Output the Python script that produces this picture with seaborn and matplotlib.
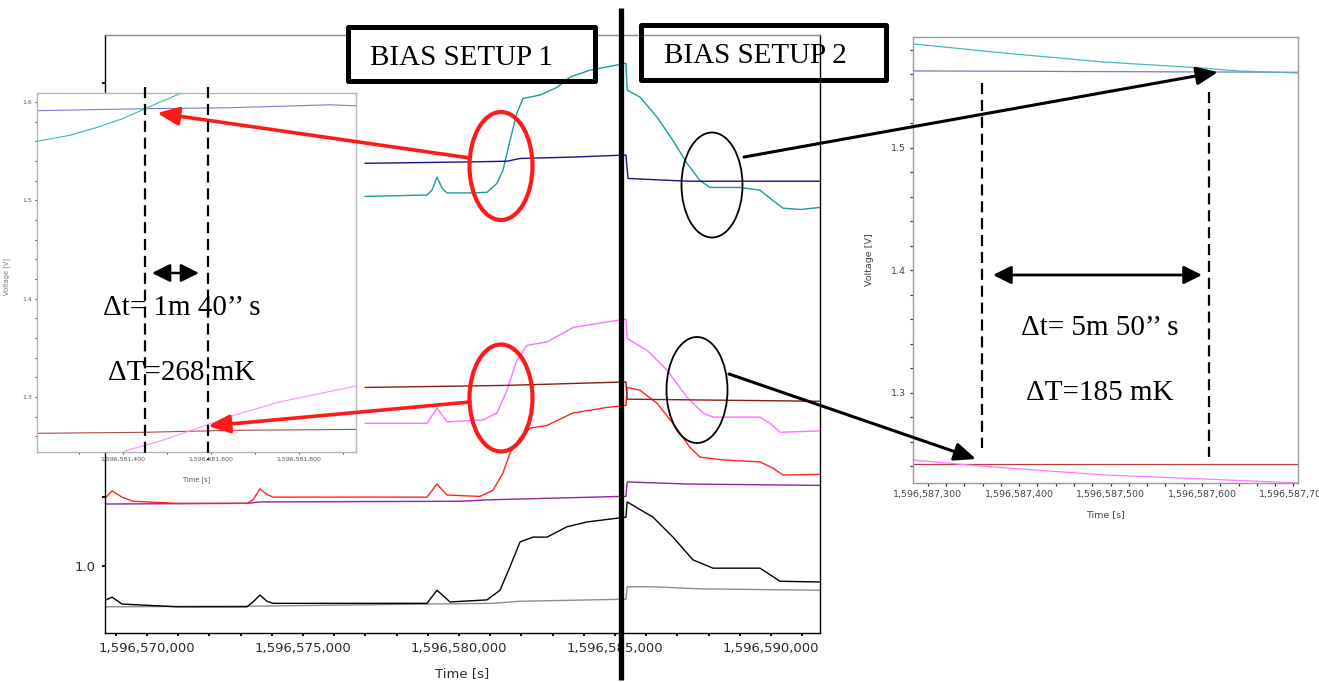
import numpy as np
import matplotlib
matplotlib.use("Agg")
import matplotlib.pyplot as plt
import seaborn as sns
from matplotlib.patches import Rectangle, Ellipse, FancyArrowPatch
from matplotlib.lines import Line2D
from matplotlib.ticker import MultipleLocator, FuncFormatter

sns.set_style("ticks")
plt.rcParams['font.family'] = ['DejaVu Sans']

# ---------------- main overview (time offsets in s from T0, voltage in V) ----------------
T0 = 1596570000
navy_t = [6987, 10352, 11538, 11955, 13653, 15350, 15416, 16858, 17403, 21570]
navy_v = [1.584, 1.586, 1.587, 1.591, 1.593, 1.596, 1.562, 1.559, 1.558, 1.558]

teal_t = [6987, 8974, 9134, 9295, 9455, 9615, 10448, 10897, 11218, 11410, 11634, 11859, 12051,
          12596, 13141, 13557, 14198, 15350, 15390, 15801, 16346, 16858, 17307, 17724, 18044,
          19006, 19647, 20063, 20384, 20929, 21570]
teal_v = [1.536, 1.538, 1.545, 1.564, 1.548, 1.541, 1.541, 1.542, 1.555, 1.574, 1.617, 1.657, 1.678,
          1.683, 1.694, 1.709, 1.719, 1.729, 1.690, 1.680, 1.651, 1.617, 1.584, 1.559, 1.549,
          1.549, 1.545, 1.530, 1.519, 1.517, 1.520]

brown_t = [6987, 11538, 15350, 15390, 21570]
brown_v = [1.259, 1.262, 1.267, 1.242, 1.239]

pink_t = [6987, 8974, 9295, 9615, 10769, 11218, 11538, 11859, 12179, 12820, 13653, 14743, 15350,
          15390, 16025, 16666, 17307, 17820, 18140, 19647, 19967, 20288, 21570]
pink_v = [1.207, 1.207, 1.229, 1.209, 1.212, 1.222, 1.255, 1.299, 1.320, 1.325, 1.346, 1.354, 1.358,
          1.330, 1.313, 1.284, 1.245, 1.222, 1.216, 1.216, 1.207, 1.194, 1.196]

red_t = [-1314, -1122, -801, -449, 962, 3205, 3397, 3622, 3846, 4038, 8750, 8974, 9295, 9615,
         10673, 11089, 11410, 11634, 11955, 12275, 12820, 13653, 14743, 15350, 15390, 15801,
         16346, 16858, 17403, 17724, 18461, 19647, 20063, 20384, 21570]
red_v = [1.100, 1.109, 1.100, 1.094, 1.091, 1.091, 1.096, 1.112, 1.104, 1.100, 1.100, 1.100, 1.119, 1.103,
         1.101, 1.110, 1.135, 1.164, 1.186, 1.200, 1.204, 1.222, 1.230, 1.233, 1.259, 1.255,
         1.236, 1.207, 1.172, 1.158, 1.154, 1.151, 1.142, 1.132, 1.133]

purple_t = [-1314, 3205, 3622, 10032, 10897, 15160, 15350, 15390, 17307, 21570]
purple_v = [1.090, 1.091, 1.093, 1.094, 1.096, 1.101, 1.101, 1.122, 1.119, 1.117]

black_t = [-1314, -1122, -801, 962, 3205, 3397, 3622, 3846, 4038, 8974, 9295, 9711, 10897, 11314,
           11634, 11955, 12371, 12820, 13461, 14102, 15350, 15390, 16217, 16858, 17499, 18140,
           19647, 20288, 21570]
black_v = [0.951, 0.955, 0.945, 0.941, 0.941, 0.948, 0.958, 0.949, 0.946, 0.946, 0.965, 0.948, 0.951, 0.965,
           0.999, 1.035, 1.042, 1.042, 1.057, 1.064, 1.071, 1.093, 1.071, 1.042, 1.009, 0.997,
           0.997, 0.978, 0.977]

gray_t = [-1314, 3622, 8974, 11089, 11955, 15350, 15390, 16217, 17724, 21570]
gray_v = [0.941, 0.942, 0.945, 0.946, 0.949, 0.952, 0.970, 0.970, 0.967, 0.965]

# ---------------- zoom 1 (offsets from T1) ----------------
T1 = 1596581000
z1_lav_t = [205, 445, 643, 870, 930]
z1_lav_v = [1.591, 1.593, 1.594, 1.597, 1.596]
z1_teal_t = [205, 280, 341, 400, 450, 491, 534, 560]
z1_teal_v = [1.560, 1.566, 1.574, 1.583, 1.593, 1.601, 1.609, 1.615]
z1_brown_t = [205, 445, 643, 930]
z1_brown_v = [1.263, 1.264, 1.266, 1.267]
z1_pink_t = [380, 405, 491, 568, 643, 757, 930]
z1_pink_v = [1.236, 1.245, 1.256, 1.268, 1.280, 1.295, 1.311]

# ---------------- zoom 2 (offsets from T2) ----------------
T2 = 1596587000
z2_teal_t = [284, 382, 492, 601, 638, 675, 705]
z2_teal_v = [1.585, 1.5776, 1.5702, 1.5653, 1.5629, 1.5620, 1.5612]
z2_lav_t = [284, 705]
z2_lav_v = [1.5629, 1.5618]
z2_brown_t = [284, 705]
z2_brown_v = [1.2420, 1.2420]
z2_pink_t = [284, 357, 492, 601, 705]
z2_pink_v = [1.2453, 1.2404, 1.2331, 1.2298, 1.2265]

W, H = 1319, 682
fig = plt.figure(figsize=(W / 100, H / 100), dpi=100)


def fx(px):
    return px / W


def fy(py):
    return 1 - py / H


def trace(ax, t0, t, v, color, lw=1.0):
    sns.lineplot(x=t0 + np.asarray(t, dtype=float), y=v, ax=ax, color=color, lw=lw,
                 estimator=None, sort=False)


comma = FuncFormatter(lambda x, p: f"{x:,.0f}")

# ---- main axes ----
ax = fig.add_axes([fx(105), fy(633), fx(820) - fx(105), fy(35) - fy(633)], zorder=1)
trace(ax, T0, gray_t, gray_v, "#8c8c8c")
trace(ax, T0, black_t, black_v, "#000000")
trace(ax, T0, purple_t, purple_v, "#92239a")
trace(ax, T0, red_t, red_v, "#ff2424")
trace(ax, T0, pink_t, pink_v, "#ff70ff")
trace(ax, T0, brown_t, brown_v, "#8b1c1c")
trace(ax, T0, teal_t, teal_v, "#1a9c9c")
trace(ax, T0, navy_t, navy_v, "#15158a")
ax.set_xlim(T0 - 1346, T0 + 21570)
ax.set_ylim(0.903, 1.770)
ax.xaxis.set_major_locator(MultipleLocator(5000))
ax.xaxis.set_minor_locator(MultipleLocator(1000))
ax.xaxis.set_major_formatter(comma)
ax.yaxis.set_major_locator(MultipleLocator(0.5))
ax.yaxis.set_minor_locator(MultipleLocator(0.1))
ax.yaxis.set_major_formatter(FuncFormatter(lambda y, p: f"{y:.1f}"))
ax.tick_params(which="both", direction="out", length=2.5, width=1.3, color="black",
               labelsize=9.5, labelcolor="#2a2a2a", pad=4)
ax.set_xlabel("Time [s]", fontsize=9.5, color="#2a2a2a")
ax.xaxis.set_label_coords(0.5, -0.057)
ax.set_ylabel("")
ax.spines["top"].set_visible(False)
for s in ["left", "bottom", "right"]:
    ax.spines[s].set_color("black")
    ax.spines[s].set_linewidth(1.0)

# ---- zoom inset 1 ----
ax1 = fig.add_axes([fx(37), fy(452), fx(356) - fx(37), fy(93) - fy(452)], zorder=3)
ax1.set_facecolor("white")
trace(ax1, T1, z1_brown_t, z1_brown_v, "#b04a4a", 0.8)
trace(ax1, T1, z1_pink_t, z1_pink_v, "#ff8cff", 0.8)
trace(ax1, T1, z1_lav_t, z1_lav_v, "#7c7cd2", 0.8)
trace(ax1, T1, z1_teal_t, z1_teal_v, "#3fb5b5", 0.8)
ax1.set_xlim(T1 + 205, T1 + 930)
ax1.set_ylim(1.244, 1.609)
ax1.xaxis.set_major_locator(MultipleLocator(200))
ax1.xaxis.set_minor_locator(MultipleLocator(100))
ax1.xaxis.set_major_formatter(comma)
ax1.yaxis.set_major_locator(MultipleLocator(0.1))
ax1.yaxis.set_minor_locator(MultipleLocator(0.02))
ax1.yaxis.set_major_formatter(FuncFormatter(lambda y, p: f"{y:.1f}"))
ax1.tick_params(which="both", direction="out", length=1.5, width=0.8, color="#444",
                labelsize=4.5, labelcolor="#555", pad=2)
ax1.set_xlabel("Time [s]", fontsize=4.8, color="#555")
ax1.set_ylabel("Voltage [V]", fontsize=4.8, color="#777")
ax1.xaxis.set_label_coords(0.5, -0.067)
ax1.yaxis.set_label_coords(-0.085, 0.49)
for s in ax1.spines.values():
    s.set_color("#b5b5b5")
    s.set_linewidth(1.0)

# ---- zoom inset 2 ----
ax2 = fig.add_axes([fx(913), fy(483), fx(1298) - fx(913), fy(37) - fy(483)], zorder=3)
ax2.set_facecolor("white")
trace(ax2, T2, z2_brown_t, z2_brown_v, "#b83a3a", 0.9)
trace(ax2, T2, z2_pink_t, z2_pink_v, "#ff78ff", 0.9)
trace(ax2, T2, z2_lav_t, z2_lav_v, "#7878cc", 0.9)
trace(ax2, T2, z2_teal_t, z2_teal_v, "#4ab8b8", 0.9)
ax2.set_xlim(T2 + 284, T2 + 705)
ax2.set_ylim(1.2265, 1.5906)
ax2.xaxis.set_major_locator(MultipleLocator(100))
ax2.xaxis.set_minor_locator(MultipleLocator(20))
ax2.xaxis.set_major_formatter(comma)
ax2.yaxis.set_major_locator(MultipleLocator(0.1))
ax2.yaxis.set_minor_locator(MultipleLocator(0.02))
ax2.yaxis.set_major_formatter(FuncFormatter(lambda y, p: f"{y:.1f}"))
ax2.tick_params(which="both", direction="out", length=2, width=0.9, color="#333",
                labelsize=6.8, labelcolor="#444", pad=3)
ax2.set_xlabel("Time [s]", fontsize=6.8, color="#444")
ax2.set_ylabel("Voltage [V]", fontsize=6.8, color="#444")
ax2.xaxis.set_label_coords(0.5, -0.06)
ax2.yaxis.set_label_coords(-0.101, 0.50)
for s in ax2.spines.values():
    s.set_color("#9a9a9a")
    s.set_linewidth(1.0)

# ---------------- overlays (figure pixel positions) ----------------
tf = fig.transFigure


def fline(x0, y0, x1, y1, **kw):
    fig.add_artist(Line2D([fx(x0), fx(x1)], [fy(y0), fy(y1)], transform=tf, **kw))


def farrow(x0, y0, x1, y1, style, color, lw, **kw):
    fig.add_artist(FancyArrowPatch((fx(x0), fy(y0)), (fx(x1), fy(y1)), transform=tf,
                                   arrowstyle=style, color=color, lw=lw,
                                   mutation_scale=10, zorder=12, shrinkA=0, shrinkB=0, **kw))


def fellipse(cx, cy, w, h, color, lw):
    fig.add_artist(Ellipse((fx(cx), fy(cy)), w / W, h / H, transform=tf, fill=False,
                           edgecolor=color, lw=lw, zorder=11))


def fbox(x0, y0, x1, y1):
    fig.add_artist(Rectangle((fx(x0), fy(y1)), (x1 - x0) / W, (y1 - y0) / H, transform=tf,
                             fill=False, edgecolor="black", lw=3.6, joinstyle="round", zorder=9))


serif = dict(family="Liberation Serif", fontsize=21, color="black", ha="center",
             va="baseline", transform=tf, zorder=13)

# top frame of the overview, broken by the first label box
fline(105, 35, 347, 35, color="#8a8a8a", lw=1.0, zorder=2)
fline(595, 35, 820, 35, color="#8a8a8a", lw=1.0, zorder=2)

# label boxes
fbox(347.5, 27.5, 594.5, 80.5)
fbox(640.5, 25.5, 885.5, 79.5)
fig.text(fx(461), fy(65), "BIAS SETUP 1", **serif)
fig.text(fx(755), fy(63), "BIAS SETUP 2", **serif)

# thick separator between the two setups
fline(621, 8, 621, 680, color="black", lw=3.8, zorder=10, solid_capstyle="butt")

# markers of the crossing regions
fellipse(501, 166, 63, 108, "#ff1a1a", 3.0)
fellipse(501, 398, 63, 107, "#ff1a1a", 3.0)
fellipse(712, 185, 61, 105, "black", 1.3)
fellipse(697, 390, 61, 106, "black", 1.3)

red_head = "-|>,head_length=1.3,head_width=0.55"
farrow(470, 158, 157, 113, red_head, "#ff1a1a", 2.6)
farrow(470, 402, 208, 426, red_head, "#ff1a1a", 2.6)
farrow(744, 157, 1218, 72, red_head, "black", 2.2)
farrow(729, 374, 976, 459, red_head, "black", 2.2)

# cursors and intervals in the zooms
dash = dict(color="black", lw=1.6, linestyle=(0, (5, 2.6)), zorder=12)
fline(145, 87, 145, 453, **dash)
fline(208, 87, 208, 460, **dash)
fline(982, 83, 982, 448, **dash)
fline(1209, 92, 1209, 457, **dash)

dbl = "<|-|>,head_length=1.1,head_width=0.55"
farrow(152, 273, 199, 273, dbl, "black", 1.8)
farrow(993, 275, 1202, 275, dbl, "black", 2.0)

fig.text(fx(182), fy(315), "\u0394t= 1m 40\u2019\u2019 s", **serif)
fig.text(fx(182), fy(380), "\u0394T=268 mK", **serif)
fig.text(fx(1100), fy(335), "\u0394t= 5m 50\u2019\u2019 s", **serif)
fig.text(fx(1100), fy(400), "\u0394T=185 mK", **serif)

fig.savefig("out.png", dpi=100)
